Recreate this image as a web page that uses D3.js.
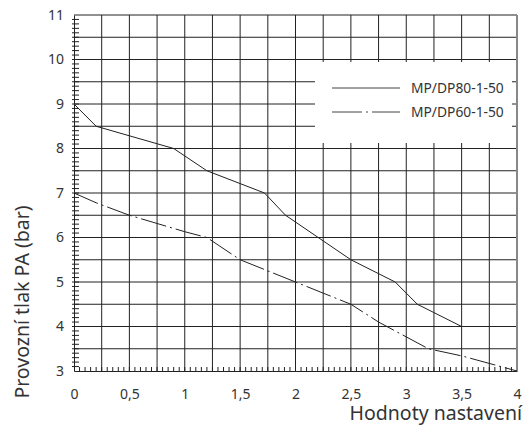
<!DOCTYPE html>
<html>
<head>
<meta charset="utf-8">
<script src="https://cdn.jsdelivr.net/npm/d3@7"></script>
<style>
  html, body { margin: 0; padding: 0; background: #fff; }
  svg { display: block; font-family: "Noto Sans", "Open Sans", sans-serif; }
</style>
</head>
<body>
<svg id="chart" width="525" height="425"></svg>
<script>
// Setting value (x) and operating pressure in bar (y) for each valve
const seriesNames = ["MP/DP80-1-50", "MP/DP60-1-50"];
const mp80X = [0, 0.2, 0.9, 1.2, 1.72, 1.91, 2.5, 2.9, 3.1, 3.5];
const mp80Y = [9.0, 8.5, 8.0, 7.5, 7.0, 6.5, 5.5, 5.0, 4.5, 4.0];
const mp60X = [0, 0.2, 0.5, 1.0, 1.2, 1.5, 2.0, 2.5, 2.75, 3.2, 3.5, 4.0];
const mp60Y = [7.0, 6.78, 6.5, 6.13, 6.0, 5.5, 5.0, 4.5, 4.1, 3.5, 3.34, 3.0];

const xTickValues = [0, 0.5, 1, 1.5, 2, 2.5, 3, 3.5, 4];
const xTickLabels = ["0", "0,5", "1", "1,5", "2", "2,5", "3", "3,5", "4"];
const yTickValues = [3, 4, 5, 6, 7, 8, 9, 10, 11];
const yTickLabels = ["3", "4", "5", "6", "7", "8", "9", "10", "11"];

const xTitle = "Hodnoty nastavení";
const yTitle = "Provozní tlak PA (bar)";

const svg = d3.select("#chart");
const plotL = 74, plotR = 517, plotT = 15, plotB = 371;

const x = d3.scaleLinear().domain([0, 4]).range([plotL, plotR]);
const y = d3.scaleLinear().domain([3, 11]).range([plotB, plotT]);

const ink = "#222";

// Grid: verticals every 0.25, horizontals every 0.5
const grid = svg.append("g").attr("stroke", ink).attr("stroke-width", 1);
grid.selectAll("line.v")
  .data(d3.range(0.25, 4, 0.25))
  .join("line")
  .attr("x1", d => x(d)).attr("x2", d => x(d))
  .attr("y1", plotT).attr("y2", plotB);
grid.selectAll("line.h")
  .data(d3.range(3.5, 11, 0.5))
  .join("line")
  .attr("x1", plotL).attr("x2", plotR)
  .attr("y1", d => y(d)).attr("y2", d => y(d));

// Frame
svg.append("line").attr("x1", plotL).attr("x2", plotR).attr("y1", plotT).attr("y2", plotT)
  .attr("stroke", ink);
svg.append("line").attr("x1", plotR).attr("x2", plotR).attr("y1", plotT).attr("y2", plotB)
  .attr("stroke", "#888").attr("stroke-width", 2);

// Legend panel masks the grid
svg.append("rect").attr("x", 315).attr("y", 62).attr("width", 197).attr("height", 81)
  .attr("fill", "#fff");

// Left axis with fine ticks every 0.1
const yAxis = d3.axisLeft(y)
  .tickValues(yTickValues)
  .tickFormat((d, i) => yTickLabels[i])
  .tickSize(0)
  .tickPadding(10);
const gy = svg.append("g").attr("transform", `translate(${plotL},0)`).call(yAxis);
gy.select(".domain").attr("stroke", ink);
gy.selectAll("text").attr("font-size", 14).attr("fill", "#333")
  .attr("font-family", "Noto Sans, sans-serif");
gy.append("g").selectAll("line")
  .data(d3.range(31, 110).map(v => v / 10))
  .join("line")
  .attr("x1", -2).attr("x2", 5)
  .attr("y1", d => y(d)).attr("y2", d => y(d))
  .attr("stroke", ink);

// Bottom axis with fine ticks every 0.05
const xAxis = d3.axisBottom(x)
  .tickValues(xTickValues)
  .tickFormat((d, i) => xTickLabels[i])
  .tickSize(0)
  .tickPadding(18);
const gx = svg.append("g").attr("transform", `translate(0,${plotB})`).call(xAxis);
gx.select(".domain").attr("stroke", ink);
gx.selectAll("text").attr("font-size", 14).attr("fill", "#333")
  .attr("font-family", "Noto Sans, sans-serif");
gx.append("g").selectAll("line")
  .data(d3.range(1, 80).map(v => v / 20))
  .join("line")
  .attr("x1", d => x(d)).attr("x2", d => x(d))
  .attr("y1", -4).attr("y2", 1)
  .attr("stroke", ink);

// Curves
const line = d3.line().x(d => x(d[0])).y(d => y(d[1]));
const dashDot = "26,4,2,4";
svg.append("path")
  .datum(d3.zip(mp80X, mp80Y))
  .attr("d", line).attr("fill", "none").attr("stroke", ink).attr("stroke-width", 1);
svg.append("path")
  .datum(d3.zip(mp60X, mp60Y))
  .attr("d", line).attr("fill", "none").attr("stroke", ink).attr("stroke-width", 1)
  .attr("stroke-dasharray", dashDot);

// Legend
const legend = svg.append("g");
const legendRows = [
  { name: seriesNames[0], dash: null, ly: 88 },
  { name: seriesNames[1], dash: "30,4,2,4", ly: 112 }
];
legendRows.forEach(r => {
  legend.append("line").attr("x1", 332).attr("x2", 400).attr("y1", r.ly).attr("y2", r.ly)
    .attr("stroke", "#444").attr("stroke-width", 1)
    .attr("stroke-dasharray", r.dash);
  legend.append("text").attr("x", 411).attr("y", r.ly + 5)
    .attr("font-size", 13.8).attr("fill", "#333").text(r.name);
});

// Axis titles
svg.append("text").attr("x", 522).attr("y", 419.5).attr("text-anchor", "end")
  .attr("font-size", 19.5).attr("fill", "#333").text(xTitle);
svg.append("text")
  .attr("transform", "translate(29,302) rotate(-90)")
  .attr("text-anchor", "middle")
  .attr("font-size", 19.5).attr("fill", "#333").text(yTitle);
</script>
</body>
</html>
